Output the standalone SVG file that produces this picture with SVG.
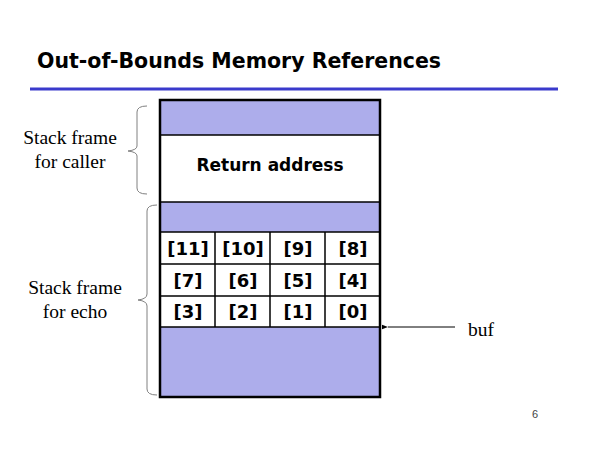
<svg xmlns="http://www.w3.org/2000/svg" width="600" height="450" viewBox="0 0 600 450">
<defs>
<style>
.t{font-family:"DejaVu Sans","Liberation Sans",sans-serif;font-weight:bold;fill:#000}
.cell{font-family:"DejaVu Sans","Liberation Sans",sans-serif;font-weight:bold;font-size:18px;text-anchor:middle;fill:#000}
.s{font-family:"Liberation Serif","Times New Roman",serif;font-size:19.5px;fill:#000;text-anchor:middle}
.blue{fill:#adadeb}
.brace{fill:none;stroke:#808080;stroke-width:1}
.grid{stroke:#000;stroke-width:1.5}
</style>
<marker id="ah" markerWidth="8" markerHeight="6" refX="0" refY="3" orient="auto-start-reverse" markerUnits="userSpaceOnUse">
<path d="M0,3 L6,0.8 L6,5.2 Z" fill="#000"/>
</marker>
</defs>
<rect width="600" height="450" fill="#fff"/>
<g id="title">
<text class="t" x="37" y="68" font-size="22" textLength="404" lengthAdjust="spacingAndGlyphs">Out-of-Bounds Memory References</text>
<line x1="30" y1="89" x2="558" y2="89" stroke="#3a3acc" stroke-width="3"/>
</g>
<g id="stack">
<rect class="blue" x="160" y="100" width="220" height="35"/>
<rect x="160" y="135" width="220" height="67" fill="#fff"/>
<rect class="blue" x="160" y="202" width="220" height="30"/>
<rect x="160" y="232" width="220" height="95" fill="#fff"/>
<rect class="blue" x="160" y="327" width="220" height="70"/>
<g class="grid">
<line x1="160" y1="135" x2="380" y2="135"/>
<line x1="160" y1="202" x2="380" y2="202"/>
<line x1="160" y1="232" x2="380" y2="232"/>
<line x1="160" y1="264" x2="380" y2="264"/>
<line x1="160" y1="296" x2="380" y2="296"/>
<line x1="160" y1="327" x2="380" y2="327"/>
<line x1="215" y1="232" x2="215" y2="327"/>
<line x1="270" y1="232" x2="270" y2="327"/>
<line x1="325" y1="232" x2="325" y2="327"/>
</g>
<rect x="160" y="100" width="220" height="297" fill="none" stroke="#000" stroke-width="2.5"/>
<text class="cell" x="270" y="171" style="font-size:17px">Return address</text>
<text class="cell" x="188" y="255">[11]</text>
<text class="cell" x="243" y="255">[10]</text>
<text class="cell" x="298" y="255">[9]</text>
<text class="cell" x="353" y="255">[8]</text>
<text class="cell" x="188" y="287">[7]</text>
<text class="cell" x="243" y="287">[6]</text>
<text class="cell" x="298" y="287">[5]</text>
<text class="cell" x="353" y="287">[4]</text>
<text class="cell" x="188" y="318">[3]</text>
<text class="cell" x="243" y="318">[2]</text>
<text class="cell" x="298" y="318">[1]</text>
<text class="cell" x="353" y="318">[0]</text>
</g>
<g id="caller-label">
<path class="brace" d="M147,106 Q137,106 137,112 L137,146 Q137,150 128,151 Q137,152 137,156 L137,188 Q137,194 147,194"/>
<text class="s" x="70" y="144">Stack frame</text>
<text class="s" x="70" y="168">for caller</text>
</g>
<g id="echo-label">
<path class="brace" d="M157,205 Q147,205 147,211 L147,294 Q147,299 138,300 Q147,301 147,306 L147,389 Q147,395 157,395"/>
<text class="s" x="75" y="294">Stack frame</text>
<text class="s" x="75" y="318">for echo</text>
</g>
<g id="buf-label">
<text class="s" x="481" y="336">buf</text>
</g>
<g id="connectors">
<line x1="455" y1="327" x2="388" y2="327" stroke="#000" stroke-width="1" marker-end="url(#ah)"/>
</g>
<text x="532" y="418" font-family="Liberation Sans,sans-serif" font-size="11" fill="#444">6</text>
</svg>
